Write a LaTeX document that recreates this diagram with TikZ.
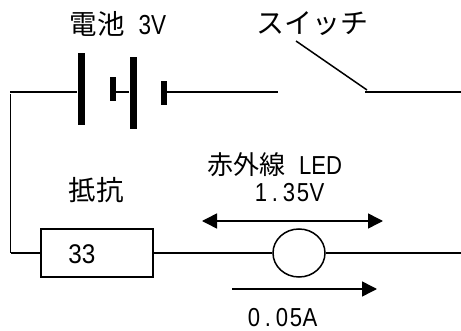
\documentclass[tikz,border=0pt]{standalone}
\usepackage{fontspec}
\setmainfont{Liberation Sans}
\newfontfamily\jp{Noto Sans CJK JP}
\usetikzlibrary{arrows.meta,shapes.geometric}
\newcommand{\mch}[2]{\makebox[#1pt][c]{\scalebox{0.85}[1]{#2}}}
\tikzset{
  x=1pt,y=-1pt,
  wire/.style={draw=black,line width=1.5pt},
  plate/.style={draw=none,fill=black,minimum width=7pt,inner sep=0pt},
  lbl/.style={inner sep=0pt,anchor=center,text=black},
  dbl/.style={line width=1.5pt,{Triangle[length=15pt,width=15pt]}-{Triangle[length=15pt,width=15pt]}},
  sgl/.style={line width=1.5pt,-{Triangle[length=15pt,width=15pt]}}
}
\begin{document}
\begin{tikzpicture}
\useasboundingbox (0,0) rectangle (461,331);
\node[plate,minimum height=72pt] (p1) at (81,89) {};
\node[plate,minimum width=6.5pt,minimum height=24pt] (p2) at (113,89) {};
\node[plate,minimum height=72pt] (p3) at (133,93) {};
\node[plate,minimum width=6.5pt,minimum height=24pt] (p4) at (164,93) {};
\coordinate (tl) at (10,92);
\coordinate (bl) at (10.5,253);
\coordinate (swl) at (278,92);
\coordinate (swa) at (367,90);
\coordinate (swt) at (296,41);
\coordinate (swr) at (365,92);
\coordinate (tr) at (461,92);
\coordinate (br) at (461,253);
\coordinate (ltop) at (10.5,94);
\draw[wire] (tl) -- (p1.west |- tl);
\draw[wire] (p2.east |- tl) -- (p3.west |- tl);
\draw[wire] (p4.east |- swl) -- (swl);
\draw[wire] (swt) -- (swa);
\draw[wire] (swr) -- (tr);
\draw[wire] (ltop) -- (bl);
\node[draw=black,line width=2pt,minimum width=112pt,minimum height=48pt,inner sep=0pt] (r) at (96.5,253) {};
\node[lbl] (rv) at (82,254) {\fontsize{27}{27}\selectfont\scalebox{0.9}[1]{33}};
\node[draw=black,line width=1.5pt,ellipse,minimum width=52pt,minimum height=48pt,inner sep=0pt] (led) at (299,253) {};
\draw[wire] (bl) -- (r.west);
\draw[wire] (r.east) -- (led.west);
\draw[wire] (led.east) -- (br);
\coordinate (va) at (202,221);
\coordinate (vb) at (383,221);
\coordinate (ca) at (232,289);
\coordinate (cb) at (377,289);
\draw[dbl] (va) -- (vb);
\draw[sgl] (ca) -- (cb);
\node[lbl] (batt) at (118,24) {\fontsize{27.5}{27.5}\selectfont\jp 電池\hspace{14pt}\rmfamily\scalebox{0.82}[1]{3V}};
\node[lbl] (sw) at (312,24) {\fontsize{28}{28}\selectfont\jp スイッチ};
\node[lbl] (rn) at (96,190) {\fontsize{27.5}{27.5}\selectfont\jp 抵抗};
\node[lbl] (ln) at (274.5,165) {\fontsize{26}{26}\selectfont\jp 赤外線\hspace{14pt}\rmfamily\scalebox{0.85}[1]{LED}};
\node[lbl] (lv) at (289,193) {\fontsize{26}{26}\selectfont\mch{14}{1}\mch{14}{.}\mch{14}{3}\mch{14}{5}\mch{14}{V}};
\node[lbl] (ic) at (282,318) {\fontsize{26}{26}\selectfont\mch{14}{0}\mch{14}{.}\mch{14}{0}\mch{14}{5}\mch{14}{A}};
\end{tikzpicture}
\end{document}
